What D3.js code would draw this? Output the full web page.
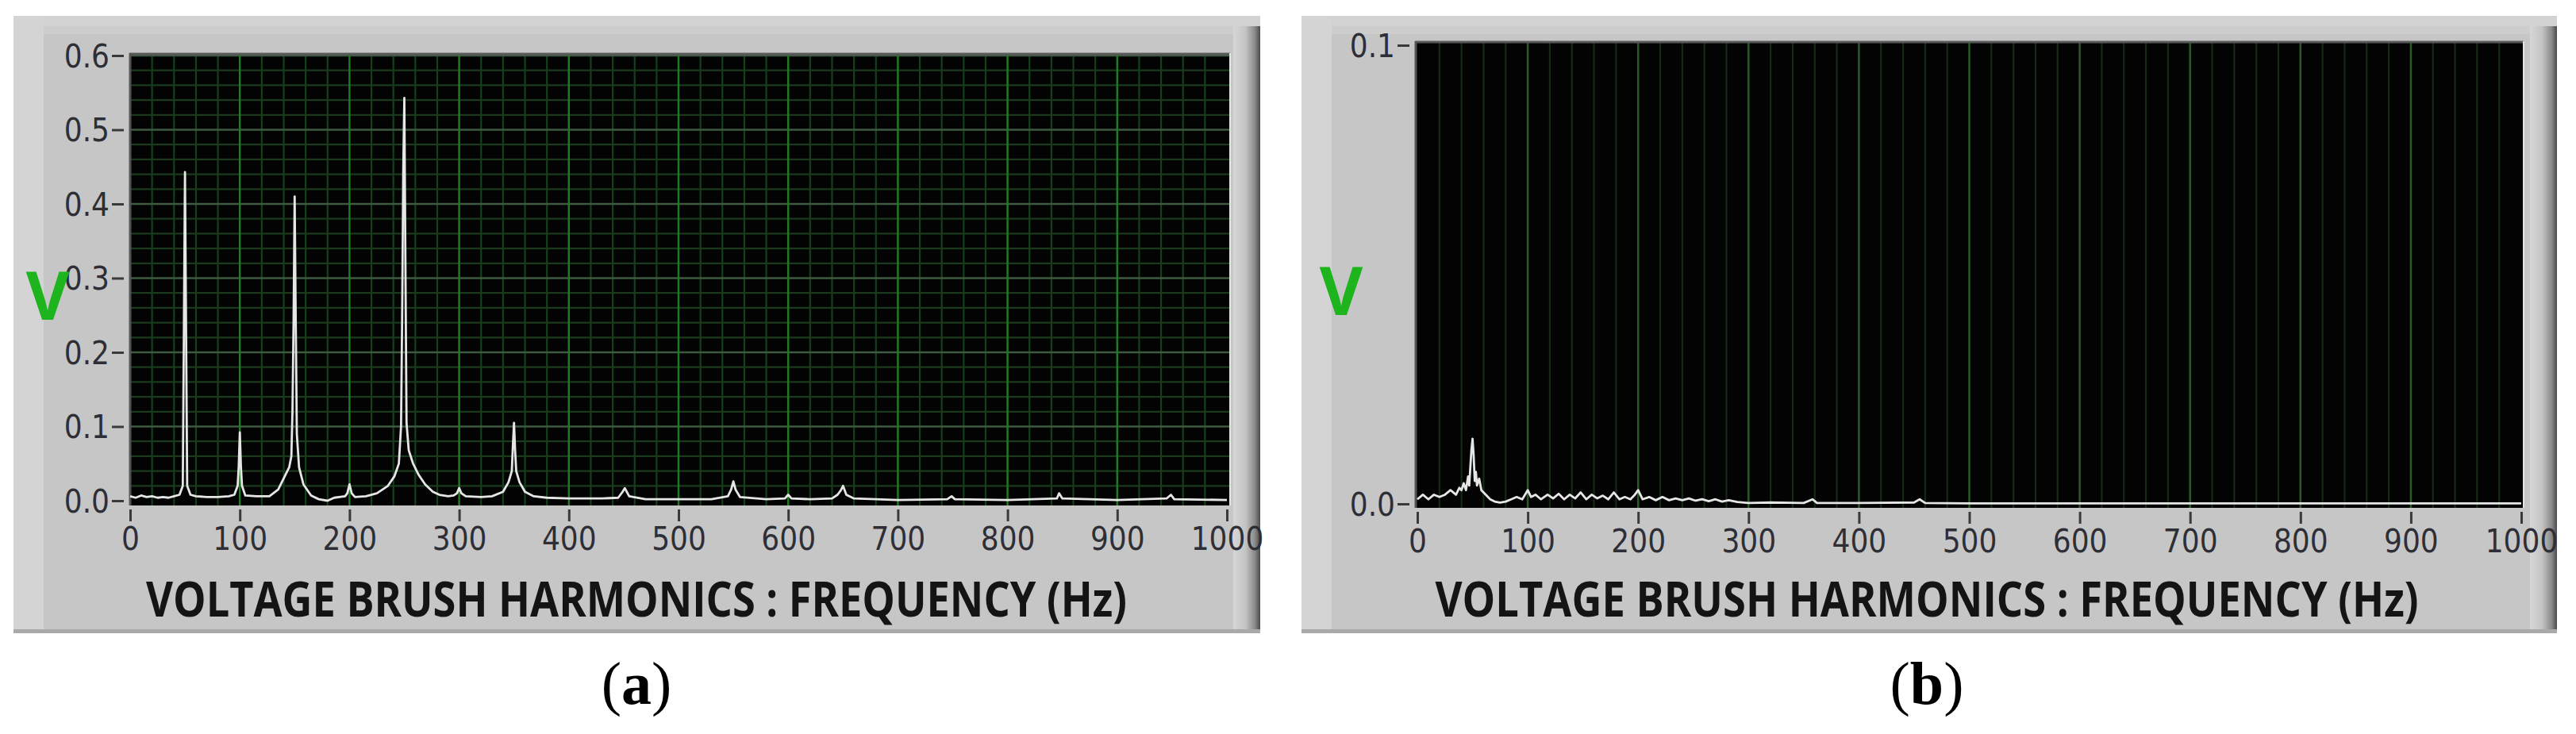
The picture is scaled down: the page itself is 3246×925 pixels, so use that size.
<!DOCTYPE html>
<html>
<head>
<meta charset="utf-8">
<script src="https://cdn.jsdelivr.net/npm/d3@7"></script>
<style>
  body { margin: 0; background: #fff; }
  svg { display: block; }
</style>
</head>
<body>
<div id="chart"></div>
<script>
// spectrum (a): brush voltage harmonics, Hz / V
const freqA = [0, 5, 10, 15, 20, 25, 30, 35, 40, 45, 48, 49, 50, 51, 52, 55, 60, 70, 80, 90, 95,
  98, 99, 100, 101, 102, 105, 115, 127, 135, 140, 145, 147, 148, 149, 150, 151, 152, 154, 158, 165,
  172, 180, 186, 196, 198, 200, 202, 205, 215, 225, 235, 241, 245, 247, 248, 249, 250, 251, 252, 254,
  258, 263, 269, 276, 282, 290, 295, 298, 300, 302, 306, 320, 330, 340, 345, 348, 349, 350, 351, 352,
  355, 360, 368, 380, 400, 430, 445, 449, 451, 455, 470, 500, 530, 545, 548, 550, 552, 556, 580, 597,
  600, 603, 620, 640, 645, 648, 650, 653, 660, 700, 745, 749, 752, 800, 845, 847, 850, 900, 945, 949,
  952, 1000];
const voltA = [0.006, 0.004, 0.007, 0.005, 0.006, 0.004, 0.005, 0.004, 0.006, 0.008, 0.02, 0.23, 0.443, 0.23, 0.02, 0.008, 0.006, 0.005, 0.005, 0.006, 0.008,
  0.02, 0.046, 0.092, 0.046, 0.02, 0.007, 0.006, 0.006, 0.015, 0.03, 0.045, 0.06, 0.12, 0.24, 0.41, 0.24, 0.09, 0.045, 0.022, 0.007,
  0.002, 0.0, 0.004, 0.006, 0.01, 0.022, 0.01, 0.005, 0.006, 0.01, 0.02, 0.033, 0.05, 0.1, 0.246, 0.443, 0.543, 0.318, 0.105, 0.068,
  0.05, 0.035, 0.022, 0.012, 0.008, 0.006, 0.007, 0.01, 0.017, 0.01, 0.006, 0.005, 0.006, 0.012, 0.025, 0.04, 0.075, 0.105, 0.068, 0.04,
  0.025, 0.012, 0.006, 0.004, 0.003, 0.003, 0.004, 0.012, 0.017, 0.006, 0.002, 0.002, 0.002, 0.006, 0.015, 0.026, 0.015, 0.005, 0.002, 0.003,
  0.008, 0.003, 0.002, 0.003, 0.008, 0.014, 0.02, 0.008, 0.003, 0.001, 0.002, 0.006, 0.002, 0.001, 0.003, 0.01, 0.003, 0.001, 0.003, 0.008,
  0.002, 0.001];

// spectrum (b)
const freqB = [0, 5, 10, 15, 20, 25, 30, 35, 38, 40, 42, 44, 46, 47, 48, 49, 50, 51, 52, 53, 54, 56, 58, 62,
  66, 70, 75, 80, 85, 90, 95, 100, 103, 107, 112, 118, 123, 128, 133, 138, 143, 148, 153, 158, 163, 168,
  173, 178, 183, 188, 193, 197, 200, 204, 210, 216, 222, 228, 234, 240, 246, 252, 258, 264, 270, 276,
  282, 290, 300, 320, 350, 358, 362, 400, 450, 455, 460, 500, 600, 700, 800, 900, 1000];
const voltB = [0.001, 0.002, 0.001, 0.002, 0.0015, 0.002, 0.003, 0.002, 0.0035, 0.003, 0.0045, 0.003, 0.006, 0.004, 0.008, 0.0118, 0.0142, 0.0105, 0.005, 0.007, 0.004, 0.0055, 0.003, 0.002,
  0.001, 0.0005, 0.0003, 0.0005, 0.001, 0.0015, 0.001, 0.003, 0.0015, 0.002, 0.001, 0.002, 0.0012, 0.0022, 0.001, 0.002, 0.0012, 0.0025, 0.001, 0.002, 0.0012, 0.0018,
  0.001, 0.0025, 0.001, 0.0015, 0.001, 0.002, 0.003, 0.001, 0.0015, 0.0008, 0.0015, 0.0008, 0.0012, 0.0008, 0.0012, 0.0007, 0.001, 0.0006, 0.001, 0.0005,
  0.0008, 0.0004, 0.0002, 0.0003, 0.0002, 0.001, 0.0002, 0.0002, 0.0003, 0.001, 0.0002, 0.0001, 0.0001, 0.0001, 0.0001, 0.0001, 0.0001];

const xTicks = [0, 100, 200, 300, 400, 500, 600, 700, 800, 900, 1000];
const yTicksA = [0, 0.1, 0.2, 0.3, 0.4, 0.5, 0.6];
const yTicksB = [0, 0.1];
const xTitle = "VOLTAGE BRUSH HARMONICS : FREQUENCY (Hz)";
const yTitle = "V";
const panelLabels = ["a", "b"];

const width = 3246, height = 925;
const svg = d3.select("#chart").append("svg").attr("width", width).attr("height", height);

const defs = svg.append("defs");
const bevel = defs.append("linearGradient").attr("id", "bevel");
bevel.append("stop").attr("offset", "0%").attr("stop-color", "#d6d6d6");
bevel.append("stop").attr("offset", "45%").attr("stop-color", "#c4c4c4");
bevel.append("stop").attr("offset", "80%").attr("stop-color", "#8a8a8a");
bevel.append("stop").attr("offset", "100%").attr("stop-color", "#4a4a4a");

const tickFont = "'Liberation Sans Narrow', 'DejaVu Sans Condensed', 'Roboto Condensed', sans-serif";

const drawPanel = (cfg) => {
	const g = svg.append("g");

	// grey LabVIEW frame
	g.append("rect").attr("x", cfg.box[0]).attr("y", cfg.box[1])
		.attr("width", cfg.box[2] - cfg.box[0]).attr("height", cfg.box[3] - cfg.box[1])
		.attr("fill", "#c6c6c6");
	g.append("rect").attr("x", cfg.box[0]).attr("y", cfg.box[1])
		.attr("width", cfg.box[2] - cfg.box[0]).attr("height", 13).attr("fill", "#d2d2d2");
	g.append("rect").attr("x", cfg.box[0]).attr("y", cfg.box[1] + 13)
		.attr("width", cfg.box[2] - cfg.box[0]).attr("height", 10).attr("fill", "#cdcdcd");
	g.append("rect").attr("x", cfg.box[0]).attr("y", cfg.box[1])
		.attr("width", 38).attr("height", cfg.box[3] - cfg.box[1]).attr("fill", "#d4d4d4");
	g.append("rect").attr("x", cfg.box[2] - 34).attr("y", cfg.box[1] + 13)
		.attr("width", 34).attr("height", cfg.box[3] - cfg.box[1] - 13).attr("fill", "url(#bevel)");
	g.append("rect").attr("x", cfg.box[0]).attr("y", cfg.box[3] - 5)
		.attr("width", cfg.box[2] - cfg.box[0]).attr("height", 5).attr("fill", "#a9a9a9");

	const x = d3.scaleLinear().domain([0, 1000]).range(cfg.xRange);
	const y = d3.scaleLinear().domain([0, cfg.yMax]).range(cfg.yRange);

	// plot area
	const pl = cfg.plot;
	g.append("rect").attr("x", pl[0]).attr("y", pl[1])
		.attr("width", pl[2] - pl[0]).attr("height", pl[3] - pl[1]).attr("fill", "#020302");

	const grid = g.append("g");
	// minor verticals every 20 Hz, majors every 100 Hz
	grid.selectAll(".vminor").data(x.ticks(50).filter((d) => d % 100 !== 0)).join("line")
		.attr("x1", (d) => x(d)).attr("x2", (d) => x(d))
		.attr("y1", pl[1]).attr("y2", pl[3])
		.attr("stroke", cfg.minorV).attr("stroke-width", 2.2);
	if (cfg.hGrid) {
		grid.selectAll(".hminor").data(y.ticks(30).filter((d) => Math.round(d * 1000) % 100 !== 0)).join("line")
			.attr("x1", pl[0]).attr("x2", pl[2])
			.attr("y1", (d) => y(d)).attr("y2", (d) => y(d))
			.attr("stroke", "#1b3a1d").attr("stroke-width", 2.2);
		grid.selectAll(".hmajor").data(cfg.yTicks.slice(1)).join("line")
			.attr("x1", pl[0]).attr("x2", pl[2])
			.attr("y1", (d) => y(d)).attr("y2", (d) => y(d))
			.attr("stroke", "#3e5a40").attr("stroke-width", 2.5);
	}
	grid.selectAll(".vmajor").data(xTicks.slice(1, -1)).join("line")
		.attr("x1", (d) => x(d)).attr("x2", (d) => x(d))
		.attr("y1", pl[1]).attr("y2", pl[3])
		.attr("stroke", cfg.majorV).attr("stroke-width", 2.5);

	// plot border
	g.append("line").attr("x1", pl[0]).attr("x2", pl[2]).attr("y1", pl[1] + 1).attr("y2", pl[1] + 1)
		.attr("stroke", "#595959").attr("stroke-width", 3);
	g.append("line").attr("x1", pl[0] + 1).attr("x2", pl[0] + 1).attr("y1", pl[1]).attr("y2", pl[3])
		.attr("stroke", "#555", ).attr("stroke-width", 3);
	g.append("line").attr("x1", pl[2]).attr("x2", pl[2]).attr("y1", pl[1]).attr("y2", pl[3])
		.attr("stroke", "#e4e4e4").attr("stroke-width", 2);

	// trace
	const line = d3.line().x((d) => x(d[0])).y((d) => y(d[1]));
	g.append("path").datum(d3.zip(cfg.freq, cfg.volt))
		.attr("d", line)
		.attr("fill", "none")
		.attr("stroke", "#e6e6e6")
		.attr("stroke-width", 2.8)
		.attr("stroke-linejoin", "round");

	// axes
	const xAxis = g.append("g")
		.attr("transform", `translate(0,${pl[3] + 5})`)
		.call(d3.axisBottom(x).tickValues(xTicks).tickSize(15).tickPadding(8).tickFormat(d3.format("d")));
	const yAxis = g.append("g")
		.attr("transform", `translate(${pl[0] - 7},0)`)
		.call(d3.axisLeft(y).tickValues(cfg.yTicks).tickSize(15).tickPadding(3).tickFormat(d3.format(".1f")));
	[xAxis, yAxis].forEach((ax) => {
		ax.select(".domain").remove();
		ax.selectAll(".tick line").attr("stroke", "#3a3a3a").attr("stroke-width", 3);
		ax.selectAll(".tick text")
			.attr("fill", "#2e2e36")
			.style("font-family", tickFont)
			.style("font-size", "40px");
	});
	yAxis.selectAll(".tick text").attr("dy", "0.36em");

	// titles
	g.append("text")
		.attr("x", cfg.titleX).attr("y", 777)
		.attr("text-anchor", "middle")
		.attr("textLength", cfg.titleLen).attr("lengthAdjust", "spacingAndGlyphs")
		.style("font-family", "'Open Sans', 'DejaVu Sans', sans-serif")
		.style("font-weight", 700).style("font-size", "60px")
		.attr("fill", "#141414")
		.text(xTitle);
	g.append("text")
		.attr("x", cfg.vX).attr("y", cfg.vY)
		.attr("text-anchor", "middle")
		.style("font-family", "'Open Sans', 'DejaVu Sans', sans-serif")
		.style("font-weight", 700).style("font-size", "84px")
		.attr("fill", "#1eb41e")
		.text(yTitle);

	// (a) / (b)
	const cap = svg.append("text")
		.attr("x", cfg.titleX).attr("y", 887)
		.attr("text-anchor", "middle")
		.style("font-family", "'Liberation Serif', 'DejaVu Serif', serif")
		.style("font-size", "76px")
		.attr("fill", "#000");
	cap.append("tspan").text("(");
	cap.append("tspan").style("font-weight", 700).text(cfg.label);
	cap.append("tspan").text(")");
};

drawPanel({
	box: [17, 20, 1588, 798],
	plot: [163, 67, 1550, 637],
	xRange: [164, 1546],
	yRange: [631, 70],
	yMax: 0.6,
	yTicks: yTicksA,
	hGrid: true,
	minorV: "#14401a",
	majorV: "#1f7a22",
	freq: freqA,
	volt: voltA,
	titleX: 802,
	titleLen: 1236,
	vX: 60,
	vY: 403,
	label: panelLabels[0]
});

drawPanel({
	box: [1640, 20, 3222, 798],
	plot: [1783, 52, 3180, 640],
	xRange: [1786, 3177],
	yRange: [635, 57],
	yMax: 0.1,
	yTicks: yTicksB,
	hGrid: false,
	minorV: "#162a16",
	majorV: "#2a5a26",
	freq: freqB,
	volt: voltB,
	titleX: 2428,
	titleLen: 1239,
	vX: 1690,
	vY: 397,
	label: panelLabels[1]
});
</script>
</body>
</html>
